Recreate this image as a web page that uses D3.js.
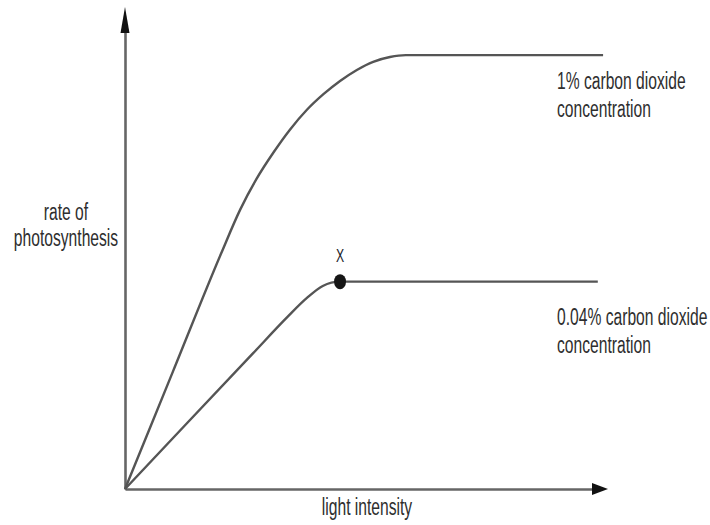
<!DOCTYPE html>
<html>
<head>
<meta charset="utf-8">
<script src="https://cdn.jsdelivr.net/npm/d3@7"></script>
<style>
  html, body { margin: 0; padding: 0; background: #fff; }
  svg { display: block; }
  text { font-family: "Liberation Sans", Arial, sans-serif; fill: #2e2e2e; }
</style>
</head>
<body>
<svg id="chart" width="710" height="525"></svg>
<script>
// Light intensity (arbitrary units) vs rate of photosynthesis (arbitrary units)
const highCO2X = [0, 10, 20, 24, 27.4, 31, 34.4, 37.9, 41.4, 44.8, 48.3, 51.7, 55.2, 58.5, 99.6];
const highCO2Y = [0, 24.5, 49, 58.2, 64.6, 70.2, 74.9, 79.0, 82.3, 85.0, 87.3, 89.0, 90.0, 90.4, 90.4];
const lowCO2X  = [0, 13, 26.7, 33.8, 37.9, 41.2, 44.8, 98.5];
const lowCO2Y  = [0, 13.8, 28.3, 35.8, 39.8, 42.3, 43.2, 43.2];
const pointX = [44.8];
const pointY = [43.2];
const pointLabels = ["X"];
const seriesLabels = [["1% carbon dioxide", "concentration"], ["0.04% carbon dioxide", "concentration"]];
const xAxisLabel = "light intensity";
const yAxisLabel = ["rate of", "photosynthesis"];

const svg = d3.select("#chart");
const x = d3.scaleLinear().domain([0, 100]).range([125, 605]);
const y = d3.scaleLinear().domain([0, 100]).range([489, 9]);

const axisColor = "#666";
const lineColor = "#555";
const squeeze = 0.68;

// axes (no ticks)
const xAxis = svg.append("g").attr("transform", `translate(0,${y(0)})`)
  .call(d3.axisBottom(x.copy().range([x(0), 594])).tickValues([]).tickSizeOuter(0));
const yAxis = svg.append("g").attr("transform", `translate(${x(0)},0)`)
  .call(d3.axisLeft(y.copy().range([y(0), 31])).tickValues([]).tickSizeOuter(0));
[xAxis, yAxis].forEach(g => g.select(".domain").attr("stroke", axisColor).attr("stroke-width", 2.6));

// arrowheads
const x0 = x(0), y0 = y(0);
svg.append("path")
  .attr("d", `M${x0},7 L${x0 + 4.5},33 L${x0 - 4.5},33 Z`)
  .attr("fill", "#111");
svg.append("path")
  .attr("d", `M608,${y0} L592,${y0 - 6} L592,${y0 + 6} Z`)
  .attr("fill", "#111");

// curves
const line = d3.line().x(d => x(d[0])).y(d => y(d[1])).curve(d3.curveMonotoneX);
const highData = highCO2X.map((v, i) => [v, highCO2Y[i]]);
const lowData = lowCO2X.map((v, i) => [v, lowCO2Y[i]]);
[highData, lowData].forEach(d => {
  svg.append("path").datum(d).attr("d", line)
    .attr("fill", "none").attr("stroke", lineColor).attr("stroke-width", 2.4)
    .attr("stroke-linecap", "butt");
});

// point X
pointX.forEach((px, i) => {
  svg.append("ellipse").attr("cx", x(px)).attr("cy", y(pointY[i]))
    .attr("rx", 6).attr("ry", 7.5).attr("fill", "#151515");
  svg.append("g").attr("transform", `translate(${x(px)},${y(pointY[i]) - 20}) scale(${squeeze},1)`)
    .append("text").attr("text-anchor", "middle").attr("font-size", 18)
    .style("fill", "#1c1c2a").text(pointLabels[i]);
});

// helper for condensed text
function label(lines, tx, ty, anchor, lh) {
  lines.forEach((t, i) => {
    svg.append("g").attr("transform", `translate(${tx},${ty + i * lh}) scale(${squeeze},1)`)
      .append("text").attr("text-anchor", anchor).attr("font-size", 23).text(t);
  });
}

label(seriesLabels[0], 557, y(90.4) + 34, "start", 28);
label(seriesLabels[1], 557, y(43.2) + 43, "start", 28);
label([xAxisLabel], 367, 515, "middle", 0);
label(yAxisLabel, 66, 220, "middle", 26);
</script>
</body>
</html>
